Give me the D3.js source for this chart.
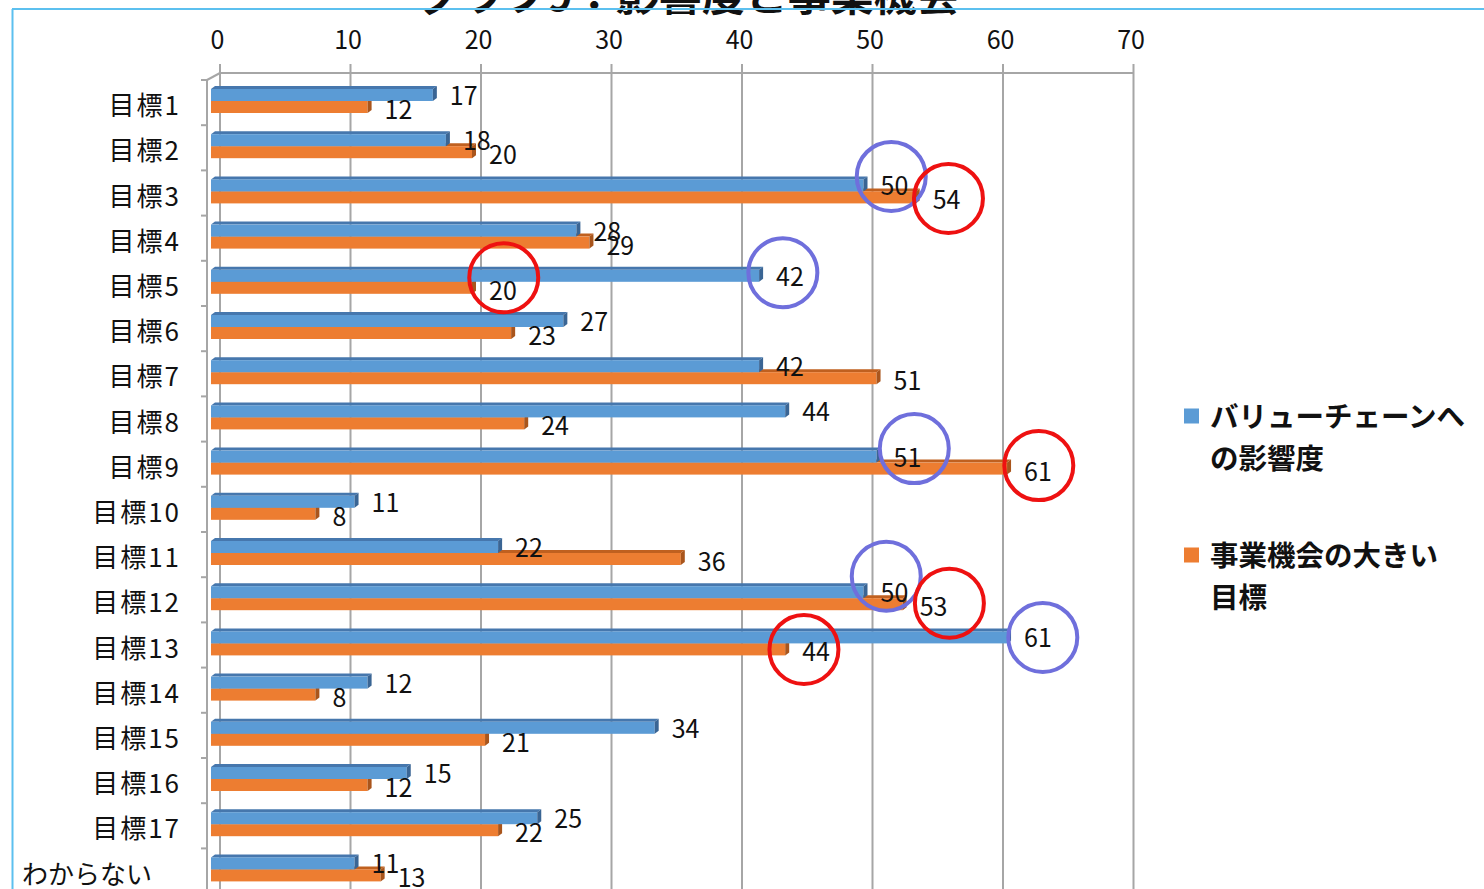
<!DOCTYPE html>
<html lang="ja">
<head>
<meta charset="utf-8">
<title>グラフ9：影響度と事業機会</title>
<script src="https://cdn.jsdelivr.net/npm/d3@7/dist/d3.min.js"></script>
<style>
  html, body { margin: 0; padding: 0; background: #fff; overflow: hidden; }
  svg { display: block; font-family: "Noto Sans CJK JP", "Noto Sans", sans-serif; }
</style>
</head>
<body>
<svg id="chart" width="1484" height="889"></svg>
<script>
// ---- data ----
const categories = ["目標1", "目標2", "目標3", "目標4", "目標5", "目標6", "目標7", "目標8", "目標9",
  "目標10", "目標11", "目標12", "目標13", "目標14", "目標15", "目標16", "目標17", "わからない"];
const valueChainImpact = [17, 18, 50, 28, 42, 27, 42, 44, 51, 11, 22, 50, 61, 12, 34, 15, 25, 11];
const businessOpportunity = [12, 20, 54, 29, 20, 23, 51, 24, 61, 8, 36, 53, 44, 8, 21, 12, 22, 13];
const axisTicks = [0, 10, 20, 30, 40, 50, 60, 70];
const seriesNames = ["バリューチェーンへの影響度", "事業機会の大きい目標"];
const legendLines = [["バリューチェーンへ", "の影響度"], ["事業機会の大きい", "目標"]];
const titleText = "グラフ9：影響度と事業機会";

// highlighted labels: category and series (0 = impact, 1 = opportunity)
const highlights = [
  { cat: "目標3", s: 0 }, { cat: "目標3", s: 1 },
  { cat: "目標5", s: 0 }, { cat: "目標5", s: 1 },
  { cat: "目標9", s: 0 }, { cat: "目標9", s: 1 },
  { cat: "目標12", s: 0 }, { cat: "目標12", s: 1 },
  { cat: "目標13", s: 0 }, { cat: "目標13", s: 1 }
];
// small nudges so each ring sits around its label
const ringNudge = [[-3, -8], [2, 0], [-7, -2], [1, -11], [7, -7], [1, -4], [-8, -15], [16, -2], [5, 1], [-12, -1]];

// ---- styling ----
const colors = {
  front: ["#5b9bd5", "#ed7d31"],
  top: ["#4677ad", "#c0601f"],
  side: ["#3a6594", "#a9551c"]
};
const ringColors = ["#6f6fdc", "#ee1111"];
const depth = { dx: 4, dy: 3 };

const svg = d3.select("#chart");

// scales: back wall (gridlines) and front plane (bars)
const xBack = d3.scaleLinear().domain([0, 70]).range([220, 1133.5]);
const xFront = d3.scaleLinear().domain([0, 70]).range([211, 1124.5]);
const rowH = 45.2;
const y = d3.scaleBand().domain(categories).range([80, 80 + rowH * categories.length]).padding(0);

// title (sits above the frame)
svg.append("text")
  .attr("x", 689).attr("y", 11)
  .attr("text-anchor", "middle")
  .attr("font-size", 43).attr("font-weight", 700)
  .attr("fill", "#111")
  .text(titleText);

// frame lines
svg.append("line").attr("x1", 12).attr("x2", 1484).attr("y1", 9).attr("y2", 9)
  .attr("stroke", "#5cc0ef").attr("stroke-width", 2.2);
svg.append("line").attr("x1", 12.5).attr("x2", 12.5).attr("y1", 9).attr("y2", 889)
  .attr("stroke", "#5cc0ef").attr("stroke-width", 2);

// back-wall gridlines
const grid = svg.append("g").attr("stroke", "#a6a6a6").attr("stroke-width", 2);
grid.selectAll("line.v").data(axisTicks).join("line")
  .attr("class", "v")
  .attr("x1", d => xBack(d)).attr("x2", d => xBack(d))
  .attr("y1", 64).attr("y2", 889);
grid.append("line").attr("x1", xBack(0)).attr("x2", xBack(70)).attr("y1", 73).attr("y2", 73);

// side wall edge with category ticks
const wallX = 207;
grid.append("line").attr("x1", wallX).attr("x2", wallX).attr("y1", 80).attr("y2", 889);
grid.append("line").attr("x1", wallX).attr("x2", xBack(0)).attr("y1", 80).attr("y2", 73);
grid.selectAll("line.t").data(categories).join("line")
  .attr("class", "t")
  .attr("x1", wallX - 6).attr("x2", wallX)
  .attr("y1", d => y(d)).attr("y2", d => y(d));

// top value axis
const axis = d3.axisTop(xBack).tickValues(axisTicks).tickSize(0).tickPadding(24);
const axisG = svg.append("g").attr("transform", "translate(0,73)").call(axis);
axisG.select(".domain").remove();
axisG.selectAll("text")
  .attr("font-size", 25).attr("fill", "#111").attr("dx", -3)
  .attr("font-family", "'Noto Sans CJK JP', 'Noto Sans', sans-serif");

// category labels
svg.append("g").selectAll("text").data(categories).join("text")
  .attr("x", d => d === "わからない" ? 22 : 181)
  .attr("text-anchor", d => d === "わからない" ? "start" : "end")
  .attr("y", d => y(d) + rowH / 2 + 1)
  .attr("dominant-baseline", "central")
  .attr("font-size", 26)
  .attr("letter-spacing", d => d === "わからない" ? 0 : 2)
  .attr("fill", "#111")
  .text(d => d);

// 3D bars
const barH = 12;
const series = [valueChainImpact, businessOpportunity];
function barTop(cat, s) { return y(cat) + 9 + s * barH; }

const barsG = svg.append("g");
// draw the opportunity series first so the impact bar overlaps its top face
[1, 0].forEach(s => {
  const g = barsG.append("g");
  const rows = categories.map((c, i) => ({ cat: c, v: series[s][i] }));
  const x0 = xFront(0);
  // top face
  g.selectAll("path.top").data(rows).join("path")
    .attr("fill", colors.top[s])
    .attr("d", d => {
      const yt = barTop(d.cat, s), xe = xFront(d.v);
      return `M${x0},${yt}L${xe},${yt}L${xe + depth.dx},${yt - depth.dy}L${x0 + depth.dx},${yt - depth.dy}Z`;
    });
  // front face
  g.selectAll("rect").data(rows).join("rect")
    .attr("x", x0).attr("y", d => barTop(d.cat, s))
    .attr("width", d => xFront(d.v) - x0).attr("height", barH)
    .attr("fill", colors.front[s]);
  // end face
  g.selectAll("path.side").data(rows).join("path")
    .attr("fill", colors.side[s])
    .attr("d", d => {
      const yt = barTop(d.cat, s), xe = xFront(d.v);
      return `M${xe},${yt}L${xe + depth.dx},${yt - depth.dy}L${xe + depth.dx},${yt + barH - depth.dy}L${xe},${yt + barH}Z`;
    });
});

// value labels
function labelPos(cat, s) {
  const i = categories.indexOf(cat);
  const v = series[s][i];
  const text = String(v);
  const w = text.length * 13.75;
  const x = xFront(v) + depth.dx + 13;
  const yc = barTop(cat, s) + barH / 2 + (s === 0 ? -1 : 1);
  return { x, yc, cx: x + w / 2, text };
}
const labelsG = svg.append("g");
[0, 1].forEach(s => {
  labelsG.selectAll(`text.s${s}`).data(categories).join("text")
    .attr("class", `s${s}`)
    .each(function (c) {
      const p = labelPos(c, s);
      d3.select(this).attr("x", p.x).attr("y", p.yc).text(p.text);
    })
    .attr("dominant-baseline", "central")
    .attr("font-size", 25)
    .attr("fill", "#111");
});

// highlight rings
svg.append("g").selectAll("circle").data(highlights).join("circle")
  .attr("cx", (d, i) => labelPos(d.cat, d.s).cx + ringNudge[i][0])
  .attr("cy", (d, i) => labelPos(d.cat, d.s).yc + ringNudge[i][1])
  .attr("r", 34.5)
  .attr("fill", "none")
  .attr("stroke", d => ringColors[d.s])
  .attr("stroke-width", 4);

// legend
const legend = svg.append("g");
const legendTop = [416, 555];
seriesNames.forEach((name, s) => {
  legend.append("rect")
    .attr("x", 1184).attr("y", legendTop[s] - 7.5)
    .attr("width", 15).attr("height", 15)
    .attr("fill", colors.front[s]);
  const t = legend.append("text")
    .attr("font-size", 28.5).attr("font-weight", 700).attr("fill", "#111");
  legendLines[s].forEach((line, k) => {
    t.append("tspan")
      .attr("x", 1210).attr("y", legendTop[s] - 2 + k * 42)
      .attr("dominant-baseline", "central")
      .text(line);
  });
});
</script>
</body>
</html>
